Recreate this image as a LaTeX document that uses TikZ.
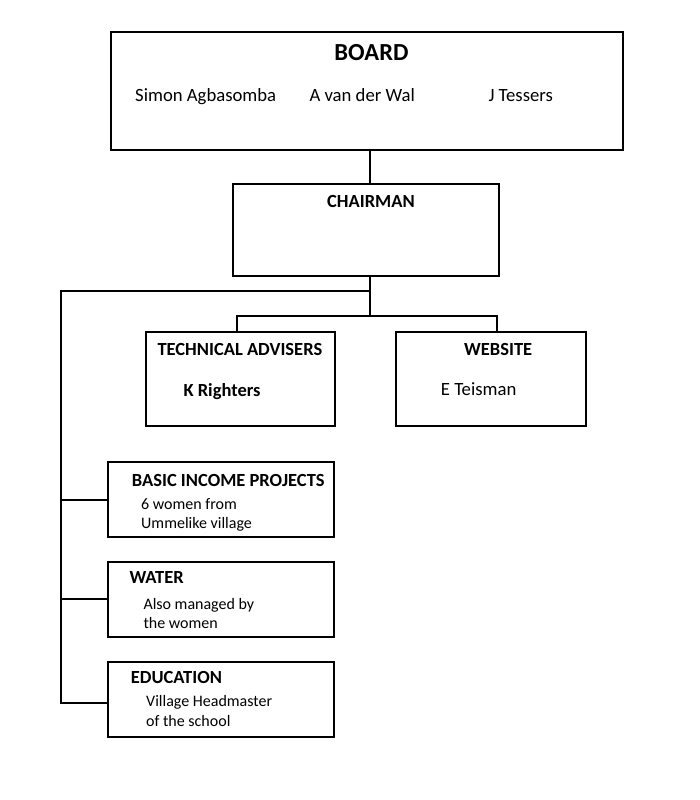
\documentclass[tikz,border=0pt]{standalone}
\usepackage{fontspec}
\setmainfont{Carlito}
\usepackage{tikz}

\tikzset{
    unitbox/.style={draw, line width=2pt, inner sep=0pt, outer sep=0pt},
    head/.style={anchor=base west, inner sep=0pt, font=\bfseries\fontsize{18.5}{21}\selectfont},
    names/.style={anchor=base west, inner sep=0pt, font=\fontsize{18.7}{21}\selectfont},
    small/.style={anchor=base west, inner sep=0pt, font=\fontsize{16}{19}\selectfont},
    link/.style={line width=2pt}
}

\begin{document}
\begin{tikzpicture}[x=1pt, y=-1pt]
    \useasboundingbox (0,0) rectangle (700,800);

    \node[unitbox, minimum width=512pt, minimum height=118pt] (board) at (367,91) {};
    \node[unitbox, minimum width=266.6pt, minimum height=92pt] (chair) at (366,230) {};
    \node[unitbox, minimum width=189pt, minimum height=94pt] (tech) at (240.5,378.7) {};
    \node[unitbox, minimum width=189.7pt, minimum height=94pt] (web) at (490.8,379) {};
    \node[unitbox, minimum width=226.6pt, minimum height=75.3pt] (income) at (221,499.7) {};
    \node[unitbox, minimum width=226.6pt, minimum height=74.7pt] (water) at (221,599.3) {};
    \node[unitbox, minimum width=226.6pt, minimum height=75.3pt] (edu) at (221,699.7) {};

    \node[anchor=base, inner sep=0pt, font=\bfseries\fontsize{24.5}{28}\selectfont] (boardtitle) at (371.5,60) {BOARD};
    \node[names] (simon) at (135,101.5) {Simon Agbasomba};
    \node[names] (wal) at (309.3,101.5) {A van der Wal};
    \node[names] (tessers) at (488.3,101.5) {J Tessers};
    \node[head, anchor=base] (chairtitle) at (371,207.3) {CHAIRMAN};
    \node[head] (techtitle) at (157.3,355) {TECHNICAL ADVISERS};
    \node[head] (righters) at (183.3,396) {K Righters};
    \node[head] (webtitle) at (464,355) {WEBSITE};
    \node[names] (teisman) at (440.7,395) {E Teisman};
    \node[head] (incometitle) at (131.7,486) {BASIC INCOME PROJECTS};
    \node[small] (income1) at (141,509.3) {6 women from};
    \node[small] (income2) at (141,528.7) {Ummelike village};
    \node[head] (watertitle) at (129.3,583.3) {WATER};
    \node[small] (water1) at (143.3,609.3) {Also managed by};
    \node[small] (water2) at (143.3,628.3) {the women};
    \node[head] (edutitle) at (130.7,683.3) {EDUCATION};
    \node[small] (edu1) at (146,706) {Village Headmaster};
    \node[small] (edu2) at (146,726) {of the school};

    \coordinate (stem) at (369.5,0);
    \coordinate (fork) at (370,291);
    \coordinate (bus) at (370,315.5);
    \coordinate (spine) at (60.7,291);

    \draw[link] (board.south -| stem) -- (chair.north -| stem);
    \draw[link] (chair.south -| bus) -- (bus);
    \draw[link] ([xshift=-3.8pt]tech.north) |- (bus) -| ([xshift=6pt]web.north);
    \draw[link] (fork) -- (spine) |- ([yshift=-3.6pt]edu.west);
    \draw[link] (spine |- income.west) -- (income.west);
    \draw[link] (spine |- water.west) -- (water.west);
\end{tikzpicture}
\end{document}
